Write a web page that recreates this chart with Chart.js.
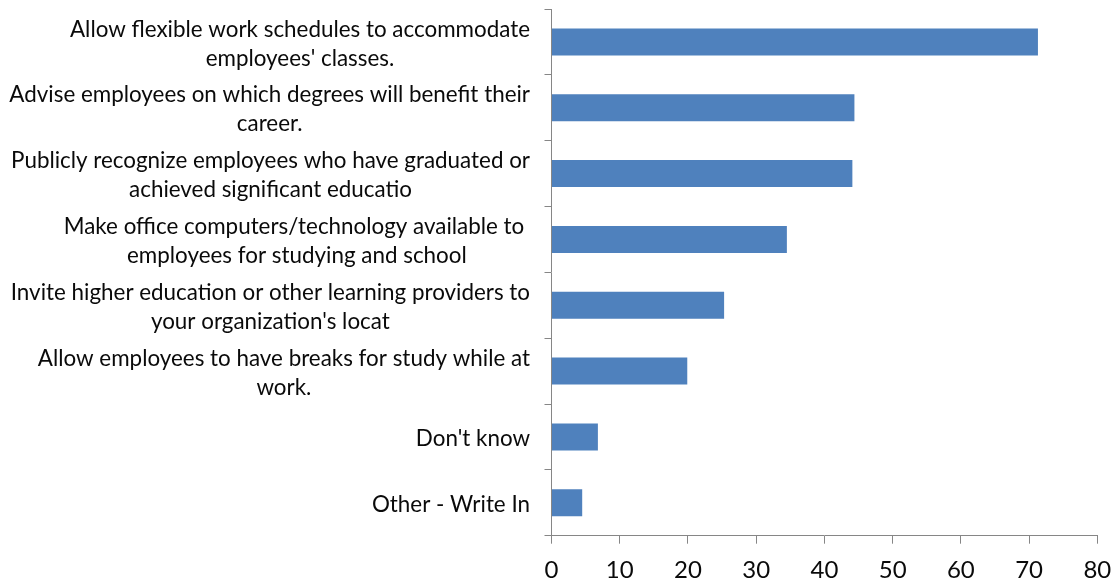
<!DOCTYPE html>
<html>
<head>
<meta charset="utf-8">
<script src="https://cdn.jsdelivr.net/npm/chart.js@4/dist/chart.umd.min.js"></script>
<style>
  html, body { margin: 0; padding: 0; background: #ffffff; }
  #wrap { width: 1115px; height: 585px; }
</style>
</head>
<body>
<div id="wrap"><canvas id="chart" width="1115" height="585"></canvas></div>
<script>
// Category labels (one entry per bar, split into the lines they wrap to)
const categories = [
  ["Allow flexible work schedules to accommodate", "employees' classes."],
  ["Advise employees on which degrees will benefit their", "career."],
  ["Publicly recognize employees who have graduated or", "achieved significant educatio"],
  ["Make office computers/technology available to ", "employees for studying and school"],
  ["Invite higher education or other learning providers to", "your organization's locat"],
  ["Allow employees to have breaks for study while at", "work."],
  ["Don't know"],
  ["Other - Write In"]
];

// Percentage of respondents for each option
const values = [71.3, 44.4, 44.1, 34.5, 25.3, 19.9, 6.8, 4.5];

// Value axis range and step
const xMin = 0;
const xMax = 80;
const xStep = 10;

const AXIS_GRAY = '#868686';
const BAR_BLUE = '#4F81BD';
const TEXT_COLOR = '#0a0a0a';
const FONT_FAMILY = 'Lato, "Open Sans", sans-serif';

// Draws each wrapped category label: the block is right-aligned next to
// the axis, and the lines inside it are centred on one another.
const wrappedLabels = {
  id: 'wrappedLabels',
  afterDraw(chart) {
    const ctx = chart.ctx;
    const yScale = chart.scales.y;
    const rightEdge = yScale.left - 13.5;
    const lineHeight = 29;
    ctx.save();
    ctx.font = '22.4px ' + FONT_FAMILY;
    ctx.fillStyle = TEXT_COLOR;
    ctx.textAlign = 'center';
    ctx.textBaseline = 'middle';
    categories.forEach((lines, i) => {
      const cy = yScale.getPixelForValue(i);
      const blockWidth = Math.max(...lines.map(l => ctx.measureText(l).width));
      const cx = rightEdge - blockWidth / 2;
      const top = cy - (lines.length - 1) * lineHeight / 2 + 2;
      lines.forEach((line, k) => {
        ctx.fillText(line, cx, top + k * lineHeight);
      });
    });
    ctx.restore();
  }
};

new Chart(document.getElementById('chart'), {
  type: 'bar',
  data: {
    labels: categories.map(l => l.join(' ')),
    datasets: [{
      data: values,
      backgroundColor: BAR_BLUE,
      borderWidth: 0,
      barPercentage: 0.41,
      categoryPercentage: 1.0
    }]
  },
  options: {
    indexAxis: 'y',
    responsive: false,
    devicePixelRatio: 1,
    animation: false,
    layout: { padding: { left: 543.5, top: 9, right: 17.7, bottom: 0 } },
    plugins: {
      legend: { display: false },
      tooltip: { enabled: false }
    },
    scales: {
      x: {
        min: xMin,
        max: xMax,
        afterFit(scale) {
          scale.height = 49.3;
          scale.paddingLeft = 0;
          scale.paddingRight = 0;
        },
        ticks: {
          stepSize: xStep,
          color: TEXT_COLOR,
          font: { family: FONT_FAMILY, size: 24 },
          padding: 12
        },
        grid: {
          drawOnChartArea: false,
          drawTicks: true,
          tickLength: 8,
          color: AXIS_GRAY,
          lineWidth: 1
        },
        border: { display: true, color: AXIS_GRAY, width: 1 }
      },
      y: {
        afterFit(scale) { scale.width = 8; },
        ticks: { display: false },
        grid: {
          offset: true,
          drawOnChartArea: false,
          drawTicks: true,
          tickLength: 7,
          color: AXIS_GRAY,
          lineWidth: 1
        },
        border: { display: true, color: AXIS_GRAY, width: 1 }
      }
    }
  },
  plugins: [wrappedLabels]
});
</script>
</body>
</html>
